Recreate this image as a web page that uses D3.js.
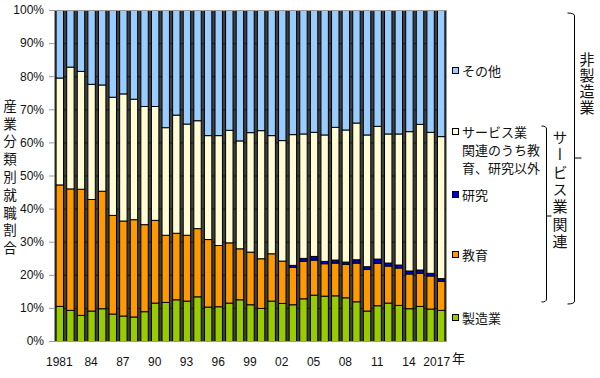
<!DOCTYPE html>
<html><head><meta charset="utf-8">
<script src="https://cdn.jsdelivr.net/npm/d3@7"></script>
<style>
body{margin:0;background:#fff}
svg text{font-family:"Liberation Sans",Arial,"Noto Sans CJK JP",sans-serif;fill:#111}
.jp{font-family:"Noto Sans CJK JP",sans-serif}
.vt{writing-mode:vertical-rl;text-orientation:upright}
</style>
</head><body>
<svg id="c" width="600" height="378"></svg>
<script>
const years = [1981,1982,1983,1984,1985,1986,1987,1988,1989,1990,1991,1992,1993,1994,1995,1996,1997,1998,1999,2000,2001,2002,2003,2004,2005,2006,2007,2008,2009,2010,2011,2012,2013,2014,2015,2016,2017];
const manufacturing = [10.6,9.4,7.9,9.2,9.9,8.3,7.7,7.4,9.0,11.6,11.8,12.6,12.2,13.5,10.4,10.5,11.6,12.6,11.1,10.0,12.2,11.5,11.1,12.9,14.0,13.7,13.8,13.2,12.0,9.2,10.8,11.6,10.9,9.9,10.6,9.8,9.4];
const education = [36.7,36.7,38.1,33.7,35.5,29.8,28.7,29.4,26.3,25.0,20.3,20.1,19.9,20.6,20.4,18.5,18.2,15.4,15.9,15.0,14.3,12.8,11.3,11.3,10.6,9.8,9.9,10.1,11.7,12.6,12.8,11.2,11.3,10.5,10.0,10.0,8.8];
const research = [0,0,0,0,0,0,0,0,0,0,0,0,0,0,0,0,0,0,0,0,0,0,0.6,0.9,1.1,0.7,0.9,0.7,1.0,0.8,1.3,0.9,0.9,0.9,1.0,0.8,0.8];
const services = [32.3,36.8,35.6,34.8,32.1,35.7,38.4,36.4,35.7,34.4,32.5,35.7,33.6,32.6,31.4,33.2,34.0,32.6,36.1,38.7,35.7,36.4,39.5,37.6,37.5,38.2,40.1,39.9,41.3,39.8,40.1,39.0,39.6,42.1,44.0,42.6,42.9];
const others = [20.4,17.1,18.4,22.3,22.5,26.2,25.2,26.8,29.0,29.0,35.4,31.6,34.3,33.3,37.8,37.8,36.2,39.4,36.9,36.3,37.8,39.3,37.5,37.3,36.8,37.6,35.3,36.1,34.0,37.6,35.0,37.3,37.3,36.6,34.4,36.8,38.1];

const seriesKeys = ["manufacturing","education","research","services","others"];
const seriesNames = ["製造業","教育","研究","サービス業関連のうち教育、研究以外","その他"];
const seriesColors = ["#99cc00","#ff9900","#0000cc","#fffbd2","#99ccff"];
const yTicks = [0,10,20,30,40,50,60,70,80,90,100];
const xTickYears = [1981,1984,1987,1990,1993,1996,1999,2002,2005,2008,2011,2014,2017];
const xTickLabels = ["1981","84","87","90","93","96","99","02","05","08","11","14","2017"];

const svg = d3.select("#c");
const L=54,R=446,T=10,B=341;
const x = d3.scaleBand().domain(years).range([L,R]).paddingInner(0.3).paddingOuter(0.15);
const y = d3.scaleLinear().domain([0,100]).range([B,T]);

const table = years.map((yr,i)=>({year:yr,manufacturing:manufacturing[i],education:education[i],research:research[i],services:services[i],others:others[i]}));
table.forEach(d=>{const s=seriesKeys.reduce((a,k)=>a+d[k],0);seriesKeys.forEach(k=>d[k]=d[k]*100/s);});
const stacked = d3.stack().keys(seriesKeys)(table);

svg.append("rect").attr("x",L).attr("y",T).attr("width",R-L).attr("height",B-T).attr("fill","#3f3f3f");
svg.append("g").selectAll("line").data(yTicks.slice(1,-1)).join("line")
  .attr("x1",L).attr("x2",R).attr("y1",d=>y(d)+0.5).attr("y2",d=>y(d)+0.5).attr("stroke","#1a1a1a");

svg.append("g").selectAll("g").data(stacked).join("g")
  .attr("fill",(d,i)=>seriesColors[i])
  .selectAll("rect").data(d=>d.filter(p=>p[1]-p[0]>0.01)).join("rect")
  .attr("x",d=>x(d.data.year)+0.5).attr("width",x.bandwidth())
  .attr("y",d=>y(d[1])+0.5).attr("height",d=>Math.max(0,y(d[0])-y(d[1])))
  .attr("stroke","#000").attr("stroke-width",1);

svg.append("rect").attr("x",L+0.5).attr("y",T+0.5).attr("width",R-L).attr("height",B-T).attr("fill","none").attr("stroke","#999");

const yAxis = svg.append("g").attr("transform",`translate(${L},0)`)
  .call(d3.axisLeft(y).tickValues(yTicks).tickFormat(d=>d+"%").tickSize(5).tickPadding(5));
yAxis.select(".domain").attr("stroke","#999");
yAxis.selectAll(".tick line").attr("stroke","#999");
yAxis.selectAll("text").attr("font-size",12).attr("fill","#111");

const xAxis = svg.append("g").attr("transform",`translate(0,${B})`)
  .call(d3.axisBottom(x).tickValues(xTickYears).tickFormat((d,i)=>xTickLabels[i]).tickSize(0).tickPadding(16));
xAxis.select(".domain").attr("stroke","#999");
xAxis.selectAll("text").attr("font-size",12).attr("fill","#111")
  .attr("dx",(d)=>d===2017?-4:0);
svg.append("text").attr("class","jp").attr("x",452).attr("y",B+22)
  .attr("font-size",13).text("年");

// vertical texts
function vtext(str,xc,ytop,size,spacing){
  svg.append("text").attr("class","jp vt").attr("x",xc).attr("y",ytop)
    .attr("font-size",size).style("letter-spacing",spacing+"px").text(str);
}
vtext("産業分類別就職割合",10,99,13.5,4.3);
vtext("サービス業関連",560,130,15,2.3);
vtext("非製造業",587,52,15,1);

// legend
const legendY = [323,260,200,137,76];
const lg = svg.append("g");
seriesKeys.forEach((k,i)=>{
  lg.append("rect").attr("x",452.5).attr("y",legendY[i]-8.5).attr("width",6).attr("height",6)
    .attr("fill",seriesColors[i]).attr("stroke","#000");
});
const legendLines = [["製造業"],["教育"],["研究"],["サービス業","関連のうち教","育、研究以外"],["その他"]];
legendLines.forEach((lines,i)=>{
  lines.forEach((t,j)=>{
    lg.append("text").attr("class","jp").attr("x",462).attr("y",legendY[i]+j*18)
      .attr("font-size",13).text(t);
  });
});

// brackets
function bracket(xp,y1,y2,ym,hook){
  const p=d3.path();
  p.moveTo(xp-hook,y1);p.quadraticCurveTo(xp,y1,xp,y1+3);p.lineTo(xp,y2-3);p.quadraticCurveTo(xp,y2,xp-hook,y2);
  p.moveTo(xp,ym);p.lineTo(xp+hook,ym);
  svg.append("path").attr("d",p.toString()).attr("fill","none").attr("stroke","#000").attr("stroke-width",1);
}
bracket(546.5,126,302,216,5);
bracket(574.5,13,304,158,7);
</script>
</body></html>
